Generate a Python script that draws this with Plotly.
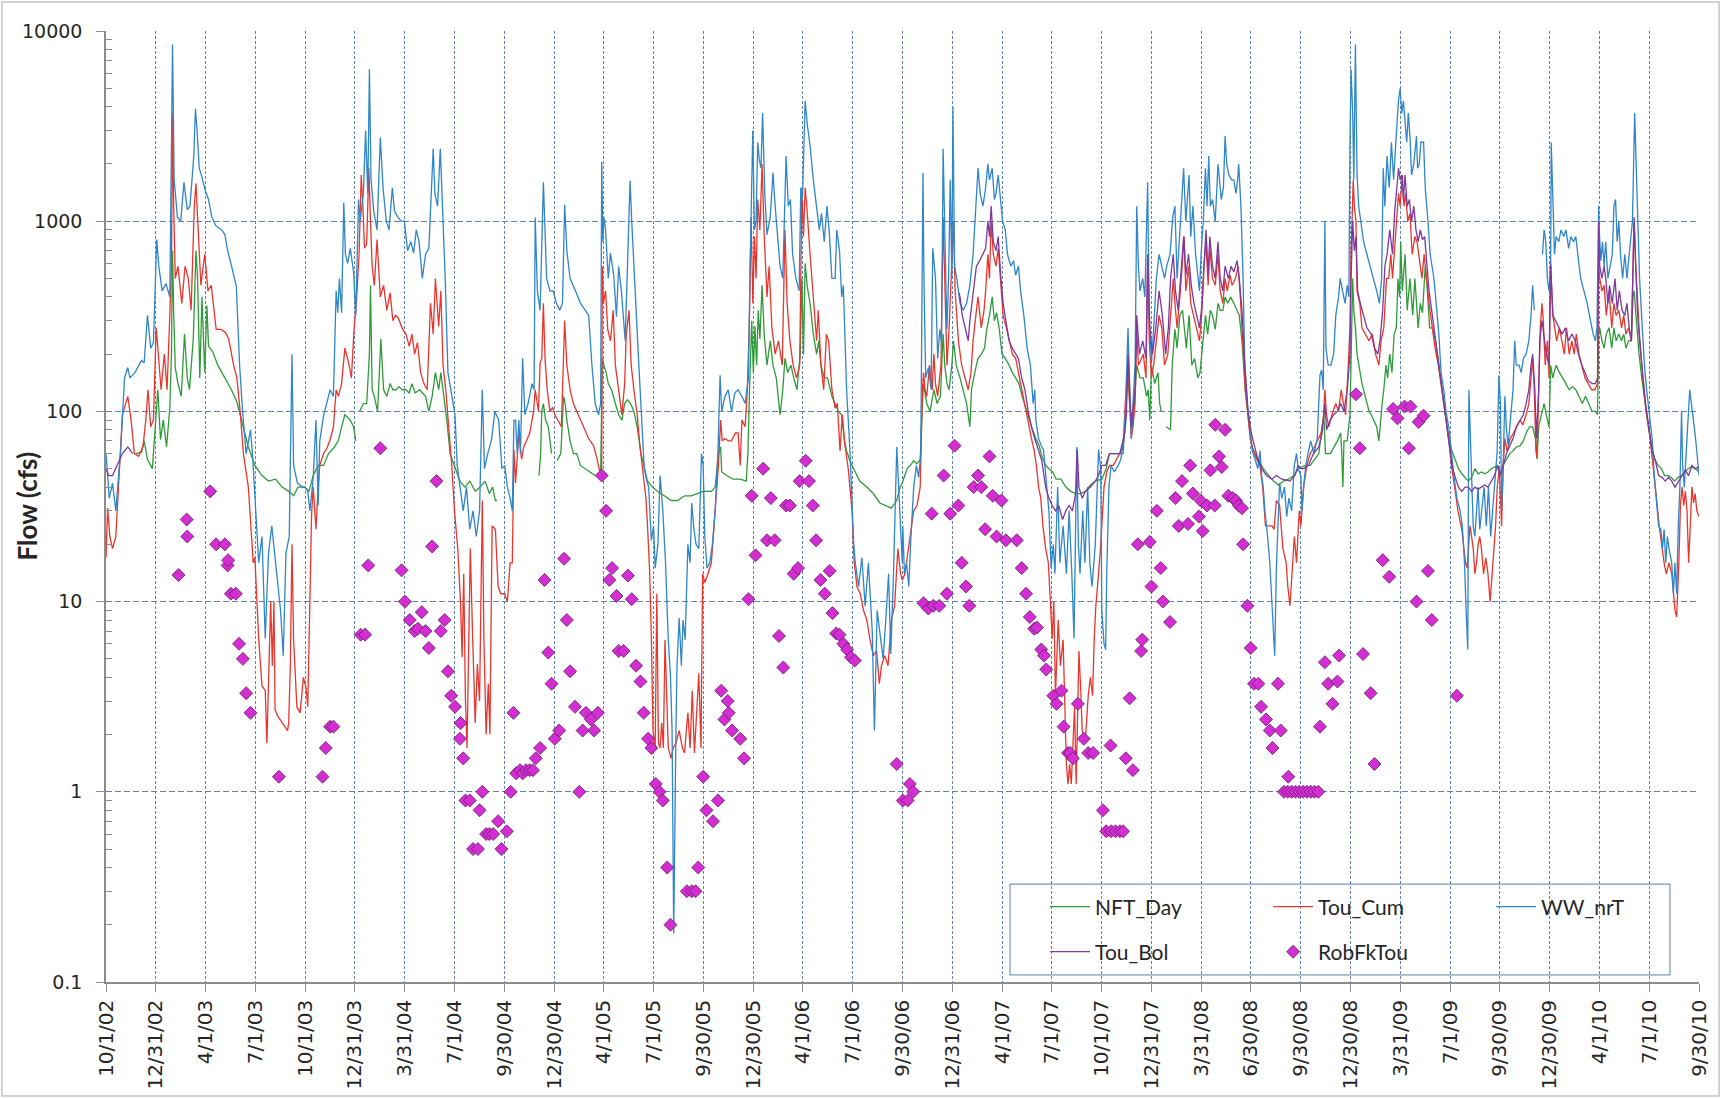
import plotly.graph_objects as go
import pandas as pd

# ---------------- tick labels ----------------
tick_labels = ["10/1/02", "12/31/02", "4/1/03", "7/1/03", "10/1/03", "12/31/03", "3/31/04",
               "7/1/04", "9/30/04", "12/30/04", "4/1/05", "7/1/05", "9/30/05", "12/30/05",
               "4/1/06", "7/1/06", "9/30/06", "12/31/06", "4/1/07", "7/1/07", "10/1/07",
               "12/31/07", "3/31/08", "6/30/08", "9/30/08", "12/30/08", "3/31/09", "7/1/09",
               "9/30/09", "12/30/09", "4/1/10", "7/1/10", "9/30/10"]
y_tick_vals = [0.1, 1, 10, 100, 1000, 10000]
y_tick_text = ["0.1", "1", "10", "100", "1000", "10000"]

# ---------------- series (date, cfs) ----------------
nft_day = [
    ("2002-11-25", 60), ("2002-12-05", 61), ("2002-12-10", 70), ("2002-12-16", 56), ("2002-12-25", 50),
    ("2003-01-01", 96), ("2003-01-04", 130), ("2003-01-09", 71), ("2003-01-14", 90), ("2003-01-20", 65),
    ("2003-01-26", 104), ("2003-01-29", 200), ("2003-01-31", 700), ("2003-02-02", 340), ("2003-02-05", 170),
    ("2003-02-10", 140), ("2003-02-16", 120), ("2003-02-22", 255), ("2003-02-27", 150), ("2003-03-03", 130),
    ("2003-03-10", 240), ("2003-03-15", 700), ("2003-03-18", 500), ("2003-03-22", 150), ("2003-03-26", 400),
    ("2003-03-31", 160), ("2003-04-04", 360), ("2003-04-07", 220), ("2003-04-15", 205), ("2003-04-24", 175),
    ("2003-05-07", 150), ("2003-05-19", 130), ("2003-05-29", 112), ("2003-06-07", 90), ("2003-06-19", 65),
    ("2003-07-01", 52), ("2003-07-14", 46), ("2003-07-26", 43), ("2003-08-08", 44), ("2003-08-20", 40),
    ("2003-09-01", 38), ("2003-09-10", 36), ("2003-09-18", 40), ("2003-09-30", 40),
    ("2003-10-08", 38), ("2003-10-16", 46), ("2003-10-25", 52), ("2003-11-04", 52), ("2003-11-13", 60),
    ("2003-11-22", 64), ("2003-12-01", 70), ("2003-12-07", 83), ("2003-12-13", 96), ("2003-12-23", 90),
    ("2003-12-29", 83), ("2004-01-02", 70), ("2004-01-05", None), ("2004-01-09", 100), ("2004-01-16", 110),
    ("2004-01-22", 110), ("2004-01-27", 200), ("2004-01-29", 460), ("2004-02-01", 130), ("2004-02-05", 120),
    ("2004-02-11", 100), ("2004-02-17", 240), ("2004-02-22", 130), ("2004-02-28", 120), ("2004-03-05", 140),
    ("2004-03-10", 130), ("2004-03-16", 130), ("2004-03-21", 135), ("2004-03-27", 130), ("2004-04-03", 130),
    ("2004-04-09", 125), ("2004-04-14", 140), ("2004-04-20", 125), ("2004-04-28", 130), ("2004-05-09", 120),
    ("2004-05-15", 100), ("2004-05-21", 120), ("2004-05-27", 160), ("2004-06-02", 130), ("2004-06-06", 160),
    ("2004-06-10", 130), ("2004-06-17", 90), ("2004-06-23", 60), ("2004-07-01", 52), ("2004-07-11", 43),
    ("2004-07-20", 40), ("2004-07-29", 43), ("2004-08-08", 38), ("2004-08-17", 40), ("2004-08-26", 43),
    ("2004-09-03", 37), ("2004-09-09", 40), ("2004-09-14", 34), ("2004-09-17", 34), ("2004-09-20", None),
    ("2004-12-03", 46), ("2004-12-06", 60), ("2004-12-08", 100), ("2004-12-11", 110), ("2004-12-15", 90),
    ("2004-12-20", 83), ("2004-12-26", 60), ("2004-12-30", None), ("2005-01-05", 55), ("2005-01-12", 60),
    ("2005-01-17", 120), ("2005-01-20", 110), ("2005-01-23", 90), ("2005-01-29", 70), ("2005-02-04", 60),
    ("2005-02-10", 60), ("2005-02-17", 52), ("2005-02-26", 50), ("2005-03-07", 48), ("2005-03-16", 46),
    ("2005-03-26", 46), ("2005-03-29", 190), ("2005-04-01", 175), ("2005-04-05", 160), ("2005-04-09", 140),
    ("2005-04-15", 130), ("2005-04-22", 110), ("2005-04-28", 96), ("2005-05-04", 90), ("2005-05-09", 110),
    ("2005-05-14", 115), ("2005-05-20", 110), ("2005-05-26", 100), ("2005-06-01", 83), ("2005-06-08", 60),
    ("2005-06-14", 50), ("2005-06-20", 43), ("2005-06-29", 40), ("2005-07-08", 38), ("2005-07-21", 36),
    ("2005-08-02", 34), ("2005-08-14", 34), ("2005-08-27", 36), ("2005-09-08", 36), ("2005-09-20", 37),
    ("2005-09-30", 38),
    ("2005-10-15", 38), ("2005-10-22", 40), ("2005-10-28", 60), ("2005-11-01", 65), ("2005-11-03", 48),
    ("2005-11-12", 46), ("2005-11-24", 44), ("2005-12-07", 44), ("2005-12-18", 43), ("2005-12-21", 60),
    ("2005-12-24", 130), ("2005-12-26", 200), ("2005-12-28", 300), ("2005-12-31", 160), ("2006-01-03", 280),
    ("2006-01-06", 175), ("2006-01-09", 340), ("2006-01-12", 240), ("2006-01-16", 460), ("2006-01-20", 250),
    ("2006-01-25", 175), ("2006-01-31", 235), ("2006-02-05", 175), ("2006-02-11", 150), ("2006-02-18", 96),
    ("2006-02-23", 130), ("2006-02-27", 190), ("2006-03-04", 160), ("2006-03-10", 175), ("2006-03-15", 150),
    ("2006-03-21", 130), ("2006-03-27", 200), ("2006-03-30", 500), ("2006-04-02", 200), ("2006-04-05", 600),
    ("2006-04-09", 450), ("2006-04-14", 370), ("2006-04-20", 255), ("2006-04-26", 200), ("2006-04-30", 235),
    ("2006-05-04", 175), ("2006-05-10", 150), ("2006-05-16", 150), ("2006-05-24", 120), ("2006-05-30", 110),
    ("2006-06-05", 100), ("2006-06-11", 96), ("2006-06-16", 70), ("2006-06-20", 62), ("2006-06-26", 55),
    ("2006-07-03", 50), ("2006-07-14", 43), ("2006-07-27", 40), ("2006-08-08", 37), ("2006-08-20", 33),
    ("2006-09-01", 32), ("2006-09-10", 31), ("2006-09-20", 34), ("2006-09-26", 40), ("2006-09-30", 42),
    ("2006-10-09", 50), ("2006-10-15", 52), ("2006-10-21", 55), ("2006-10-27", 53), ("2006-11-02", 56),
    ("2006-11-06", 110), ("2006-11-08", 140), ("2006-11-14", 110), ("2006-11-20", 100), ("2006-11-27", 130),
    ("2006-12-03", 110), ("2006-12-09", 120), ("2006-12-14", 255), ("2006-12-17", 175), ("2006-12-21", 140),
    ("2006-12-25", 130), ("2006-12-30", 175), ("2007-01-02", 235), ("2007-01-07", 175), ("2007-01-14", 150),
    ("2007-01-20", 130), ("2007-01-26", 110), ("2007-02-01", 83), ("2007-02-04", 130), ("2007-02-10", 160),
    ("2007-02-16", 190), ("2007-02-22", 200), ("2007-02-28", 215), ("2007-03-04", 270), ("2007-03-09", 320),
    ("2007-03-14", 400), ("2007-03-18", 300), ("2007-03-22", 330), ("2007-03-27", 270), ("2007-04-01", 200),
    ("2007-04-07", 190), ("2007-04-14", 175), ("2007-04-20", 160), ("2007-04-26", 150), ("2007-05-02", 140),
    ("2007-05-08", 120), ("2007-05-14", 105), ("2007-05-20", 92), ("2007-05-27", 80), ("2007-06-02", 72),
    ("2007-06-08", 66), ("2007-06-14", 57), ("2007-06-20", 52), ("2007-06-26", 50), ("2007-07-03", 48),
    ("2007-07-09", 44), ("2007-07-18", 44), ("2007-07-27", 40), ("2007-08-05", 38), ("2007-08-14", 37),
    ("2007-08-23", 37), ("2007-09-01", 38), ("2007-09-10", 41), ("2007-09-19", 43), ("2007-10-01", 44),
    ("2007-10-09", 50), ("2007-10-15", 60), ("2007-10-28", 60), ("2007-11-09", 60), ("2007-11-13", 90),
    ("2007-11-18", 160), ("2007-11-21", 110), ("2007-11-27", 83), ("2007-12-04", 175), ("2007-12-10", 150),
    ("2007-12-16", 150), ("2007-12-22", 120), ("2007-12-25", 130), ("2007-12-28", 90), ("2007-12-31", 175),
    ("2008-01-06", 140), ("2008-01-12", 160), ("2008-01-15", 110), ("2008-01-18", 100), ("2008-01-22", None),
    ("2008-01-27", 83), ("2008-02-04", 80), ("2008-02-07", 175), ("2008-02-12", 270), ("2008-02-16", 215),
    ("2008-02-21", 320), ("2008-02-26", 340), ("2008-02-29", 270), ("2008-03-04", 215), ("2008-03-09", 320),
    ("2008-03-14", 175), ("2008-03-19", 190), ("2008-03-25", 150), ("2008-03-29", 160), ("2008-04-03", 235),
    ("2008-04-08", 320), ("2008-04-12", 255), ("2008-04-17", 340), ("2008-04-21", 320), ("2008-04-26", 270),
    ("2008-05-01", 370), ("2008-05-05", 340), ("2008-05-10", 340), ("2008-05-14", 400), ("2008-05-19", 370),
    ("2008-05-24", 400), ("2008-05-30", 370), ("2008-06-05", 340), ("2008-06-09", 320), ("2008-06-14", 235),
    ("2008-06-20", 130), ("2008-06-26", 90), ("2008-07-02", 65), ("2008-07-08", 60), ("2008-07-14", 56),
    ("2008-07-23", 50), ("2008-08-02", 46), ("2008-08-11", 43), ("2008-08-20", 41), ("2008-08-29", 43),
    ("2008-09-07", 44), ("2008-09-17", 46), ("2008-09-26", 50),
    ("2008-10-08", 52), ("2008-10-17", 52), ("2008-10-26", 56), ("2008-11-02", 60), ("2008-11-08", 83),
    ("2008-11-11", 96), ("2008-11-14", 60), ("2008-11-23", 60), ("2008-12-06", 70), ("2008-12-12", 77),
    ("2008-12-14", 60), ("2008-12-16", 40), ("2008-12-18", 70), ("2008-12-24", 70), ("2008-12-29", 96),
    ("2008-12-31", 200), ("2009-01-03", 500), ("2009-01-05", 340), ("2009-01-08", 275), ("2009-01-11", 200),
    ("2009-01-16", 160), ("2009-01-20", 140), ("2009-01-26", 120), ("2009-02-02", 100), ("2009-02-06", 96),
    ("2009-02-11", 90), ("2009-02-16", 83), ("2009-02-20", 70), ("2009-02-23", 90), ("2009-02-26", 110),
    ("2009-03-01", 130), ("2009-03-05", 175), ("2009-03-08", 150), ("2009-03-12", 200), ("2009-03-16", 160),
    ("2009-03-20", 255), ("2009-03-24", 275), ("2009-03-27", 500), ("2009-03-30", 400), ("2009-04-01", 780),
    ("2009-04-04", 430), ("2009-04-09", 670), ("2009-04-13", 340), ("2009-04-18", 500), ("2009-04-23", 320),
    ("2009-04-27", 500), ("2009-05-03", 275), ("2009-05-07", 370), ("2009-05-11", 330), ("2009-05-16", 580),
    ("2009-05-20", 430), ("2009-05-24", 275), ("2009-05-29", 275), ("2009-06-04", 235), ("2009-06-10", 175),
    ("2009-06-16", 130), ("2009-06-22", 96), ("2009-06-28", 72), ("2009-07-04", 62), ("2009-07-10", 55),
    ("2009-07-16", 50), ("2009-07-22", 47), ("2009-07-28", 45), ("2009-08-03", 43), ("2009-08-09", 45),
    ("2009-08-15", 50), ("2009-08-21", 47), ("2009-08-27", 48), ("2009-09-02", 47), ("2009-09-08", 48),
    ("2009-09-14", 50), ("2009-09-20", 51), ("2009-09-26", 52),
    ("2009-09-30", 46), ("2009-10-06", 52), ("2009-10-12", 56), ("2009-10-18", 60), ("2009-10-24", 62),
    ("2009-10-30", 65), ("2009-11-06", 66), ("2009-11-12", 70), ("2009-11-17", 77), ("2009-11-23", 83),
    ("2009-11-29", 83), ("2009-12-05", 70), ("2009-12-07", 56), ("2009-12-10", 83), ("2009-12-15", 96),
    ("2009-12-20", 110), ("2009-12-24", 96), ("2009-12-29", 83), ("2010-01-01", 175), ("2010-01-05", 150),
    ("2010-01-11", 175), ("2010-01-17", 160), ("2010-01-23", 150), ("2010-01-29", 140), ("2010-02-04", 130),
    ("2010-02-10", 135), ("2010-02-16", 130), ("2010-02-22", 120), ("2010-02-28", 110), ("2010-03-06", 120),
    ("2010-03-12", 110), ("2010-03-18", 100), ("2010-03-24", 100), ("2010-03-28", 96), ("2010-03-30", 255),
    ("2010-04-01", 275), ("2010-04-05", 235), ("2010-04-09", 215), ("2010-04-13", 255), ("2010-04-18", 275),
    ("2010-04-23", 215), ("2010-04-27", 275), ("2010-05-01", 235), ("2010-05-06", 255), ("2010-05-11", 235),
    ("2010-05-15", 255), ("2010-05-19", 215), ("2010-05-24", 235), ("2010-05-29", 235), ("2010-06-01", 400),
    ("2010-06-03", 430), ("2010-06-07", 300), ("2010-06-12", 200), ("2010-06-17", 150), ("2010-06-23", 110),
    ("2010-06-29", 83), ("2010-07-05", 66), ("2010-07-11", 56), ("2010-07-17", 52), ("2010-07-23", 50),
    ("2010-07-29", 46), ("2010-08-04", 46), ("2010-08-10", 45), ("2010-08-16", 43), ("2010-08-23", 45),
    ("2010-08-29", 46), ("2010-09-04", 48), ("2010-09-10", 50), ("2010-09-16", 51), ("2010-09-23", 50),
    ("2010-09-30", 48),
]

tou_cum = [
    ("2002-10-01", 17), ("2002-10-04", 31), ("2002-10-08", 22), ("2002-10-13", 19), ("2002-10-19", 22),
    ("2002-10-25", 50), ("2002-10-31", 96), ("2002-11-10", 120), ("2002-11-16", 90), ("2002-11-22", 60),
    ("2002-11-30", 58), ("2002-12-08", 66), ("2002-12-13", 90), ("2002-12-17", 130), ("2002-12-22", 83),
    ("2002-12-27", 90), ("2003-01-01", 275), ("2003-01-05", 200), ("2003-01-10", 130), ("2003-01-16", 200),
    ("2003-01-21", 130), ("2003-01-26", 320), ("2003-01-29", 580), ("2003-01-31", 3700), ("2003-02-02", 1220),
    ("2003-02-05", 500), ("2003-02-10", 580), ("2003-02-17", 370), ("2003-02-23", 580), ("2003-03-01", 500),
    ("2003-03-06", 340), ("2003-03-12", 1220), ("2003-03-15", 1580), ("2003-03-19", 900), ("2003-03-24", 460),
    ("2003-03-31", 670), ("2003-04-06", 430), ("2003-04-12", 460), ("2003-04-21", 270), ("2003-04-30", 270),
    ("2003-05-08", 260), ("2003-05-14", 240), ("2003-05-23", 175), ("2003-05-29", 150), ("2003-06-04", 100),
    ("2003-06-10", 60), ("2003-06-19", 40), ("2003-06-28", 16), ("2003-07-01", 17), ("2003-07-08", 6.4),
    ("2003-07-14", 3.6), ("2003-07-20", 3.4), ("2003-07-23", 1.8), ("2003-07-30", 10), ("2003-08-02", 4.6),
    ("2003-08-05", 10), ("2003-08-07", 2.7), ("2003-08-12", 2.5), ("2003-08-21", 2.3), ("2003-08-30", 2.1),
    ("2003-09-01", 2.3), ("2003-09-04", 4.6), ("2003-09-07", 20), ("2003-09-10", 6.3), ("2003-09-16", 2.8),
    ("2003-09-22", 2.6), ("2003-09-28", 4),
    ("2003-10-03", 3.5), ("2003-10-06", 2.8), ("2003-10-10", 14), ("2003-10-13", 29), ("2003-10-16", 40),
    ("2003-10-21", 24), ("2003-10-25", 40), ("2003-10-28", 52), ("2003-11-04", 60), ("2003-11-10", 64),
    ("2003-11-16", 71), ("2003-11-22", 83), ("2003-11-27", 130), ("2003-12-01", 120), ("2003-12-07", 140),
    ("2003-12-13", 215), ("2003-12-19", 185), ("2003-12-25", 150), ("2003-12-30", 275), ("2004-01-03", 370),
    ("2004-01-08", 670), ("2004-01-12", 1750), ("2004-01-15", 1200), ("2004-01-18", 720), ("2004-01-22", 760),
    ("2004-01-26", 1900), ("2004-01-29", 1000), ("2004-02-01", 580), ("2004-02-05", 460), ("2004-02-10", 800),
    ("2004-02-16", 400), ("2004-02-22", 460), ("2004-02-28", 340), ("2004-03-05", 420), ("2004-03-10", 300),
    ("2004-03-15", 320), ("2004-03-20", 310), ("2004-03-28", 270), ("2004-04-03", 255), ("2004-04-09", 220),
    ("2004-04-14", 255), ("2004-04-19", 200), ("2004-04-24", 230), ("2004-04-30", 160), ("2004-05-06", 140),
    ("2004-05-12", 130), ("2004-05-18", 370), ("2004-05-23", 255), ("2004-05-27", 500), ("2004-05-30", 345),
    ("2004-06-02", 280), ("2004-06-06", 430), ("2004-06-10", 175), ("2004-06-15", 130), ("2004-06-19", 96),
    ("2004-06-26", 52), ("2004-07-01", 30), ("2004-07-07", 19), ("2004-07-12", 10), ("2004-07-15", 5.1),
    ("2004-07-18", 14), ("2004-07-21", 3.1), ("2004-07-24", 1.7), ("2004-07-27", 4.6), ("2004-07-30", 19),
    ("2004-08-03", 7), ("2004-08-08", 2.3), ("2004-08-12", 4.7), ("2004-08-16", 3), ("2004-08-21", 34),
    ("2004-08-24", 6.3), ("2004-08-28", 2), ("2004-09-01", 3.7), ("2004-09-04", 2), ("2004-09-08", 25),
    ("2004-09-14", 24), ("2004-09-19", 12), ("2004-09-24", 11), ("2004-09-28", 11),
    ("2004-10-01", 11), ("2004-10-06", 10), ("2004-10-11", 16), ("2004-10-15", 16), ("2004-10-18", 63),
    ("2004-10-21", 42), ("2004-10-27", 77), ("2004-11-01", 56), ("2004-11-05", 65), ("2004-11-10", 70),
    ("2004-11-16", 77), ("2004-11-23", 100), ("2004-11-26", 130), ("2004-12-02", 100), ("2004-12-05", 180),
    ("2004-12-08", 190), ("2004-12-11", 370), ("2004-12-14", 190), ("2004-12-18", 130), ("2004-12-23", 100),
    ("2004-12-28", 105), ("2005-01-01", 96), ("2005-01-07", 90), ("2005-01-13", 83), ("2005-01-19", 300),
    ("2005-01-23", 175), ("2005-01-29", 130), ("2005-02-04", 110), ("2005-02-13", 96), ("2005-02-23", 83),
    ("2005-03-04", 72), ("2005-03-13", 66), ("2005-03-19", 57), ("2005-03-26", 46), ("2005-03-28", 46),
    ("2005-03-29", 580), ("2005-03-31", 370), ("2005-04-04", 430), ("2005-04-08", 270), ("2005-04-13", 235),
    ("2005-04-18", 340), ("2005-04-22", 175), ("2005-04-28", 130), ("2005-05-04", 96), ("2005-05-09", 140),
    ("2005-05-12", 255), ("2005-05-17", 340), ("2005-05-21", 175), ("2005-05-26", 130), ("2005-06-01", 96),
    ("2005-06-06", 66), ("2005-06-12", 46), ("2005-06-17", 35), ("2005-06-20", 25), ("2005-06-24", 14),
    ("2005-06-27", 6.4), ("2005-06-30", 2.1), ("2005-07-04", 1.7), ("2005-07-07", 11), ("2005-07-10", 1.8),
    ("2005-07-13", 1.7), ("2005-07-16", 2.3), ("2005-07-19", 1.7), ("2005-07-22", 6.3), ("2005-07-25", 3.2),
    ("2005-07-28", 1.7), ("2005-08-02", 1.5), ("2005-08-06", 1.7), ("2005-08-11", 1.8), ("2005-08-17", 2.1),
    ("2005-08-23", 1.7), ("2005-08-27", 1.6), ("2005-08-30", 2.1), ("2005-09-02", 2.6), ("2005-09-06", 1.7),
    ("2005-09-10", 3.4), ("2005-09-14", 1.6), ("2005-09-18", 2.6), ("2005-09-22", 4.2), ("2005-09-26", 1.7),
    ("2005-09-29", 14),
    ("2005-10-03", 12.6), ("2005-10-09", 14), ("2005-10-15", 16), ("2005-10-22", 30), ("2005-10-28", 52),
    ("2005-11-01", 90), ("2005-11-04", 70), ("2005-11-09", 72), ("2005-11-15", 70), ("2005-11-21", 70),
    ("2005-11-28", 77), ("2005-12-03", 77), ("2005-12-07", 52), ("2005-12-10", 90), ("2005-12-16", 83),
    ("2005-12-20", 130), ("2005-12-24", 320), ("2005-12-27", 1050), ("2005-12-30", 370), ("2006-01-02", 830),
    ("2006-01-05", 500), ("2006-01-08", 1300), ("2006-01-12", 900), ("2006-01-16", 2000), ("2006-01-20", 830),
    ("2006-01-25", 400), ("2006-01-29", 580), ("2006-02-03", 275), ("2006-02-09", 200), ("2006-02-15", 235),
    ("2006-02-22", 175), ("2006-02-27", 900), ("2006-03-03", 370), ("2006-03-08", 235), ("2006-03-14", 175),
    ("2006-03-20", 150), ("2006-03-26", 175), ("2006-03-30", 1500), ("2006-04-02", 830), ("2006-04-05", 1500),
    ("2006-04-08", 1200), ("2006-04-14", 670), ("2006-04-20", 400), ("2006-04-26", 235), ("2006-04-29", 340),
    ("2006-05-04", 175), ("2006-05-09", 130), ("2006-05-14", 255), ("2006-05-18", 235), ("2006-05-24", 130),
    ("2006-05-30", 104), ("2006-06-03", 110), ("2006-06-08", 62), ("2006-06-12", 96), ("2006-06-17", 66),
    ("2006-06-23", 50), ("2006-06-30", 30), ("2006-07-04", 16), ("2006-07-09", 12), ("2006-07-15", 11),
    ("2006-07-21", 9), ("2006-07-27", 8), ("2006-08-02", 6.3), ("2006-08-08", 5.2), ("2006-08-14", 5.5),
    ("2006-08-19", 3.7), ("2006-08-23", 4.6), ("2006-08-29", 5.2), ("2006-09-04", 4.6), ("2006-09-10", 8),
    ("2006-09-16", 9.5), ("2006-09-22", 19), ("2006-09-27", 14), ("2006-09-30", 13),
    ("2006-10-05", 14), ("2006-10-09", 17), ("2006-10-15", 23), ("2006-10-21", 30), ("2006-10-27", 32),
    ("2006-11-02", 40), ("2006-11-06", 130), ("2006-11-08", 160), ("2006-11-11", 130), ("2006-11-14", 120),
    ("2006-11-19", 175), ("2006-11-24", 130), ("2006-11-27", 200), ("2006-11-30", 140), ("2006-12-04", 120),
    ("2006-12-07", 150), ("2006-12-10", 175), ("2006-12-14", 1050), ("2006-12-17", 500), ("2006-12-21", 175),
    ("2006-12-25", 275), ("2006-12-30", 580), ("2007-01-02", 1000), ("2007-01-05", 430), ("2007-01-11", 235),
    ("2007-01-17", 175), ("2007-01-23", 150), ("2007-01-29", 130), ("2007-02-03", 160), ("2007-02-07", 235),
    ("2007-02-12", 320), ("2007-02-16", 400), ("2007-02-22", 275), ("2007-02-27", 340), ("2007-03-02", 430),
    ("2007-03-06", 670), ("2007-03-09", 500), ("2007-03-12", 1000), ("2007-03-16", 670), ("2007-03-21", 580),
    ("2007-03-25", 720), ("2007-03-30", 450), ("2007-04-03", 320), ("2007-04-09", 275), ("2007-04-15", 235),
    ("2007-04-20", 200), ("2007-04-26", 190), ("2007-05-01", 160), ("2007-05-07", 130), ("2007-05-13", 110),
    ("2007-05-19", 90), ("2007-05-25", 72), ("2007-05-30", 62), ("2007-06-03", 52), ("2007-06-07", 40),
    ("2007-06-11", 35), ("2007-06-15", 25), ("2007-06-20", 19), ("2007-06-25", 16), ("2007-06-29", 9.5),
    ("2007-07-02", 6.4), ("2007-07-05", 10), ("2007-07-08", 3.2), ("2007-07-13", 8), ("2007-07-17", 4.6),
    ("2007-07-22", 6.3), ("2007-07-25", 2.5), ("2007-07-28", 1.4), ("2007-07-31", 1.1), ("2007-08-03", 1.4),
    ("2007-08-06", 1.1), ("2007-08-09", 1.7), ("2007-08-12", 2.8), ("2007-08-15", 1.1), ("2007-08-18", 3.2),
    ("2007-08-20", 5.5), ("2007-08-23", 3.6), ("2007-08-26", 2.1), ("2007-09-01", 1.9), ("2007-09-06", 3.2),
    ("2007-09-10", 4), ("2007-09-14", 3.2), ("2007-09-17", 6.3), ("2007-09-20", 9.5), ("2007-09-25", 14),
    ("2007-09-29", 20),
    ("2007-10-05", 40), ("2007-10-10", 48), ("2007-10-15", 52), ("2007-10-22", 52), ("2007-10-28", 56),
    ("2007-11-03", 60), ("2007-11-09", 65), ("2007-11-13", 110), ("2007-11-18", 175), ("2007-11-21", 110),
    ("2007-11-24", 72), ("2007-11-27", 83), ("2007-12-01", 110), ("2007-12-04", 275), ("2007-12-07", 175),
    ("2007-12-11", 185), ("2007-12-16", 200), ("2007-12-21", 150), ("2007-12-24", 580), ("2007-12-27", 235),
    ("2007-12-31", 150), ("2008-01-04", 175), ("2008-01-09", 235), ("2008-01-14", 320), ("2008-01-19", 275),
    ("2008-01-24", 175), ("2008-01-30", 200), ("2008-02-04", 340), ("2008-02-09", 500), ("2008-02-12", 370),
    ("2008-02-16", 275), ("2008-02-22", 430), ("2008-02-26", 670), ("2008-02-29", 830), ("2008-03-03", 430),
    ("2008-03-08", 580), ("2008-03-12", 370), ("2008-03-17", 320), ("2008-03-23", 275), ("2008-03-28", 235),
    ("2008-04-01", 320), ("2008-04-05", 580), ("2008-04-09", 780), ("2008-04-13", 460), ("2008-04-16", 720),
    ("2008-04-21", 500), ("2008-04-26", 460), ("2008-05-01", 670), ("2008-05-05", 430), ("2008-05-10", 370),
    ("2008-05-14", 500), ("2008-05-18", 430), ("2008-05-23", 520), ("2008-05-27", 460), ("2008-06-02", 500),
    ("2008-06-07", 580), ("2008-06-11", 400), ("2008-06-15", 235), ("2008-06-20", 130), ("2008-06-25", 96),
    ("2008-06-29", 72), ("2008-07-05", 62), ("2008-07-11", 56), ("2008-07-17", 52), ("2008-07-22", 40),
    ("2008-07-27", 25), ("2008-08-02", 25), ("2008-08-08", 25), ("2008-08-12", 24), ("2008-08-16", 34),
    ("2008-08-22", 32), ("2008-08-28", 19), ("2008-09-03", 16), ("2008-09-06", 12), ("2008-09-10", 9.5),
    ("2008-09-14", 14), ("2008-09-18", 22), ("2008-09-22", 16), ("2008-09-27", 30),
    ("2008-09-30", 25), ("2008-10-05", 40), ("2008-10-11", 52), ("2008-10-17", 60), ("2008-10-26", 66),
    ("2008-11-02", 72), ("2008-11-06", 77), ("2008-11-10", 90), ("2008-11-13", 130), ("2008-11-16", 96),
    ("2008-11-20", 83), ("2008-11-26", 96), ("2008-12-03", 110), ("2008-12-08", 100), ("2008-12-13", 130),
    ("2008-12-17", 110), ("2008-12-21", 96), ("2008-12-26", 175), ("2008-12-29", 275), ("2008-12-31", 670),
    ("2009-01-02", 1200), ("2009-01-04", 1650), ("2009-01-06", 1200), ("2009-01-09", 1000), ("2009-01-11", 430),
    ("2009-01-16", 370), ("2009-01-20", 275), ("2009-01-26", 255), ("2009-02-02", 235), ("2009-02-08", 255),
    ("2009-02-14", 200), ("2009-02-20", 175), ("2009-02-24", 235), ("2009-03-01", 275), ("2009-03-06", 500),
    ("2009-03-10", 500), ("2009-03-14", 670), ("2009-03-17", 500), ("2009-03-22", 780), ("2009-03-25", 1000),
    ("2009-03-28", 1400), ("2009-03-31", 1200), ("2009-04-04", 1750), ("2009-04-07", 1200), ("2009-04-10", 1400),
    ("2009-04-14", 1000), ("2009-04-18", 1100), ("2009-04-22", 670), ("2009-04-27", 830), ("2009-05-01", 780),
    ("2009-05-05", 620), ("2009-05-10", 500), ("2009-05-14", 670), ("2009-05-18", 500), ("2009-05-23", 370),
    ("2009-05-29", 275), ("2009-06-03", 215), ("2009-06-09", 175), ("2009-06-16", 130), ("2009-06-22", 96),
    ("2009-06-28", 72), ("2009-07-03", 52), ("2009-07-09", 40), ("2009-07-15", 30), ("2009-07-22", 24),
    ("2009-07-26", 19), ("2009-07-29", 16), ("2009-08-01", 15), ("2009-08-03", 19), ("2009-08-06", 25),
    ("2009-08-09", 22), ("2009-08-12", 19), ("2009-08-15", 14), ("2009-08-18", 16), ("2009-08-21", 20),
    ("2009-08-24", 22), ("2009-08-27", 19), ("2009-08-31", 14), ("2009-09-04", 17), ("2009-09-08", 14),
    ("2009-09-12", 10), ("2009-09-15", 14), ("2009-09-19", 19), ("2009-09-22", 25), ("2009-09-25", 40),
    ("2009-09-29", 50),
    ("2009-10-03", 25), ("2009-10-06", 52), ("2009-10-09", 72), ("2009-10-13", 62), ("2009-10-19", 72),
    ("2009-10-25", 77), ("2009-10-31", 83), ("2009-11-06", 90), ("2009-11-11", 85), ("2009-11-17", 96),
    ("2009-11-22", 110), ("2009-11-26", 160), ("2009-11-29", 190), ("2009-12-02", 130), ("2009-12-05", 62),
    ("2009-12-07", 57), ("2009-12-10", 110), ("2009-12-13", 275), ("2009-12-16", 370), ("2009-12-18", 320),
    ("2009-12-22", 175), ("2009-12-26", 235), ("2009-12-29", 150), ("2010-01-01", 580), ("2010-01-05", 320),
    ("2010-01-08", 275), ("2010-01-12", 235), ("2010-01-17", 275), ("2010-01-21", 235), ("2010-01-26", 200),
    ("2010-01-30", 275), ("2010-02-04", 200), ("2010-02-09", 235), ("2010-02-13", 200), ("2010-02-17", 255),
    ("2010-02-22", 200), ("2010-02-27", 175), ("2010-03-05", 150), ("2010-03-11", 140), ("2010-03-17", 130),
    ("2010-03-23", 130), ("2010-03-28", 140), ("2010-03-30", 580), ("2010-04-01", 500), ("2010-04-05", 430),
    ("2010-04-09", 460), ("2010-04-13", 320), ("2010-04-18", 430), ("2010-04-23", 275), ("2010-04-27", 370),
    ("2010-05-01", 320), ("2010-05-06", 340), ("2010-05-11", 275), ("2010-05-15", 320), ("2010-05-19", 255),
    ("2010-05-24", 275), ("2010-05-29", 235), ("2010-06-01", 670), ("2010-06-03", 1000), ("2010-06-06", 580),
    ("2010-06-09", 370), ("2010-06-12", 275), ("2010-06-17", 175), ("2010-06-21", 130), ("2010-06-25", 100),
    ("2010-06-30", 83), ("2010-07-05", 62), ("2010-07-09", 46), ("2010-07-14", 35), ("2010-07-19", 25),
    ("2010-07-24", 19), ("2010-07-28", 16), ("2010-08-01", 14), ("2010-08-06", 16), ("2010-08-11", 14),
    ("2010-08-15", 11), ("2010-08-17", 9), ("2010-08-20", 8.3), ("2010-08-22", 11), ("2010-08-24", 16),
    ("2010-08-27", 32), ("2010-08-30", 40), ("2010-09-02", 32), ("2010-09-05", 38), ("2010-09-08", 30),
    ("2010-09-11", 16), ("2010-09-14", 25), ("2010-09-17", 40), ("2010-09-20", 33), ("2010-09-23", 37),
    ("2010-09-26", 30), ("2010-09-30", 28),
]

ww_nrt = [
    ("2002-10-01", 60), ("2002-10-04", 45), ("2002-10-07", 35), ("2002-10-13", 42), ("2002-10-19", 30),
    ("2002-10-28", 63), ("2002-11-04", 150), ("2002-11-10", 170), ("2002-11-14", 150), ("2002-11-23", 160),
    ("2002-12-05", 185), ("2002-12-10", 180), ("2002-12-16", 320), ("2002-12-22", 215), ("2002-12-27", 230),
    ("2003-01-02", 800), ("2003-01-06", 575), ("2003-01-12", 430), ("2003-01-19", 470), ("2003-01-26", 400),
    ("2003-01-29", 2000), ("2003-01-31", 8500), ("2003-02-03", 1650), ("2003-02-09", 1050), ("2003-02-15", 1000),
    ("2003-02-21", 1600), ("2003-02-27", 1150), ("2003-03-04", 1200), ("2003-03-11", 2200), ("2003-03-14", 3900),
    ("2003-03-17", 3000), ("2003-03-21", 1900), ("2003-03-26", 1700), ("2003-04-01", 1450), ("2003-04-07", 1300),
    ("2003-04-13", 1050), ("2003-04-20", 950), ("2003-05-01", 900), ("2003-05-07", 850), ("2003-05-12", 700),
    ("2003-05-18", 600), ("2003-05-28", 455), ("2003-06-03", 175), ("2003-06-09", 95), ("2003-06-15", 60),
    ("2003-06-23", 80), ("2003-06-27", 57), ("2003-07-02", 30), ("2003-07-08", 16), ("2003-07-14", 22),
    ("2003-07-20", 6.4), ("2003-07-26", 18), ("2003-08-01", 25), ("2003-08-08", 16), ("2003-08-17", 9),
    ("2003-08-22", 5.2), ("2003-08-27", 18), ("2003-09-02", 22), ("2003-09-07", 200), ("2003-09-10", 52),
    ("2003-09-17", 42), ("2003-09-26", 40),
    ("2003-10-01", 40), ("2003-10-06", 38), ("2003-10-10", 30), ("2003-10-16", 45), ("2003-10-21", 90),
    ("2003-10-25", 32), ("2003-10-28", 70), ("2003-11-04", 95), ("2003-11-10", 110), ("2003-11-16", 130),
    ("2003-11-22", 120), ("2003-11-27", 430), ("2003-11-30", 330), ("2003-12-03", 500), ("2003-12-07", 330),
    ("2003-12-11", 1250), ("2003-12-14", 670), ("2003-12-18", 600), ("2003-12-23", 720), ("2003-12-29", 540),
    ("2004-01-02", 320), ("2004-01-07", 1300), ("2004-01-10", 1000), ("2004-01-13", 1200), ("2004-01-16", 1400),
    ("2004-01-20", 3000), ("2004-01-24", 1400), ("2004-01-27", 6300), ("2004-01-30", 1650), ("2004-02-04", 1130),
    ("2004-02-10", 900), ("2004-02-16", 2750), ("2004-02-21", 1500), ("2004-02-27", 1000), ("2004-03-03", 900),
    ("2004-03-09", 1500), ("2004-03-13", 1130), ("2004-03-19", 1050), ("2004-03-25", 1000), ("2004-03-31", 1000),
    ("2004-04-06", 700), ("2004-04-12", 780), ("2004-04-17", 680), ("2004-04-22", 900), ("2004-04-27", 780),
    ("2004-05-03", 500), ("2004-05-09", 670), ("2004-05-15", 720), ("2004-05-19", 1400), ("2004-05-23", 2400),
    ("2004-05-26", 1400), ("2004-05-31", 1200), ("2004-06-05", 2400), ("2004-06-09", 1200), ("2004-06-14", 500),
    ("2004-06-19", 160), ("2004-06-24", 130), ("2004-07-02", 96), ("2004-07-06", 52), ("2004-07-11", 40),
    ("2004-07-17", 30), ("2004-07-23", 40), ("2004-07-29", 24), ("2004-08-04", 30), ("2004-08-10", 22),
    ("2004-08-16", 30), ("2004-08-21", 130), ("2004-08-25", 50), ("2004-08-31", 60), ("2004-09-07", 71),
    ("2004-09-13", 100), ("2004-09-20", 90), ("2004-09-26", 50),
    ("2004-10-01", 52), ("2004-10-06", 40), ("2004-10-11", 35), ("2004-10-15", 30), ("2004-10-18", 90),
    ("2004-10-21", 90), ("2004-10-24", 60), ("2004-10-27", 90), ("2004-10-30", 60), ("2004-11-03", 190),
    ("2004-11-07", 96), ("2004-11-13", 110), ("2004-11-20", 140), ("2004-11-24", 130), ("2004-11-26", 1050),
    ("2004-11-30", 430), ("2004-12-05", 340), ("2004-12-08", 780), ("2004-12-11", 1600), ("2004-12-14", 900),
    ("2004-12-17", 500), ("2004-12-23", 430), ("2004-12-29", 430), ("2005-01-04", 370), ("2005-01-10", 340),
    ("2005-01-15", 370), ("2005-01-19", 1220), ("2005-01-23", 700), ("2005-01-29", 500), ("2005-02-08", 430),
    ("2005-02-17", 370), ("2005-02-26", 340), ("2005-03-04", 320), ("2005-03-10", 175), ("2005-03-16", 110),
    ("2005-03-22", 96), ("2005-03-26", 110), ("2005-03-28", 2050), ("2005-03-30", 780), ("2005-04-01", 1050),
    ("2005-04-04", 900), ("2005-04-09", 500), ("2005-04-13", 680), ("2005-04-19", 520), ("2005-04-24", 315),
    ("2005-04-28", 580), ("2005-05-03", 430), ("2005-05-10", 235), ("2005-05-15", 680), ("2005-05-19", 1630),
    ("2005-05-22", 1000), ("2005-05-25", 600), ("2005-05-28", 450), ("2005-06-03", 200), ("2005-06-09", 100),
    ("2005-06-14", 50), ("2005-06-18", 44), ("2005-06-22", 40), ("2005-06-27", 21), ("2005-07-01", 25),
    ("2005-07-04", 15), ("2005-07-09", 20), ("2005-07-13", 46), ("2005-07-18", 30), ("2005-07-23", 16),
    ("2005-07-28", 6.3), ("2005-08-01", 4.1), ("2005-08-04", 2.1), ("2005-08-07", 0.18), ("2005-08-09", 0.8),
    ("2005-08-11", 2), ("2005-08-13", 4.6), ("2005-08-17", 8.2), ("2005-08-21", 4.6), ("2005-08-24", 8),
    ("2005-08-28", 6.3), ("2005-09-02", 20), ("2005-09-06", 16), ("2005-09-09", 33), ("2005-09-13", 24),
    ("2005-09-17", 20), ("2005-09-22", 19), ("2005-09-27", 60), ("2005-09-30", 52),
    ("2005-10-03", 22), ("2005-10-07", 15), ("2005-10-12", 16), ("2005-10-17", 20), ("2005-10-22", 30),
    ("2005-10-27", 60), ("2005-10-31", 155), ("2005-11-03", 100), ("2005-11-09", 120), ("2005-11-15", 130),
    ("2005-11-21", 100), ("2005-11-27", 125), ("2005-12-03", 130), ("2005-12-10", 120), ("2005-12-16", 110),
    ("2005-12-19", 130), ("2005-12-22", 150), ("2005-12-25", 580), ("2005-12-27", 1000), ("2005-12-30", 3000),
    ("2006-01-02", 900), ("2006-01-05", 1000), ("2006-01-08", 2600), ("2006-01-11", 2100), ("2006-01-14", 1900),
    ("2006-01-17", 3700), ("2006-01-21", 1400), ("2006-01-25", 850), ("2006-01-31", 1050), ("2006-02-05", 1800),
    ("2006-02-09", 1200), ("2006-02-14", 780), ("2006-02-18", 580), ("2006-02-23", 500), ("2006-03-01", 2200),
    ("2006-03-05", 1200), ("2006-03-09", 1300), ("2006-03-13", 670), ("2006-03-19", 500), ("2006-03-25", 430),
    ("2006-03-28", 1500), ("2006-03-31", 1300), ("2006-04-02", 1900), ("2006-04-05", 4300), ("2006-04-09", 3200),
    ("2006-04-14", 2500), ("2006-04-20", 1650), ("2006-04-26", 1200), ("2006-05-01", 900), ("2006-05-05", 1100),
    ("2006-05-10", 780), ("2006-05-15", 1200), ("2006-05-19", 900), ("2006-05-24", 500), ("2006-05-30", 500),
    ("2006-06-02", 900), ("2006-06-07", 700), ("2006-06-11", 400), ("2006-06-14", 460), ("2006-06-20", 130),
    ("2006-06-26", 63), ("2006-07-03", 20), ("2006-07-06", 16), ("2006-07-12", 12), ("2006-07-18", 17),
    ("2006-07-24", 9.5), ("2006-07-30", 16), ("2006-08-06", 7), ("2006-08-10", 2.1), ("2006-08-15", 9),
    ("2006-08-21", 6.3), ("2006-08-26", 5), ("2006-09-01", 9), ("2006-09-05", 14), ("2006-09-09", 5.3),
    ("2006-09-14", 14), ("2006-09-20", 65), ("2006-09-25", 30), ("2006-09-30", 16),
    ("2006-10-01", 25), ("2006-10-04", 14), ("2006-10-08", 16), ("2006-10-12", 12), ("2006-10-16", 22),
    ("2006-10-21", 40), ("2006-10-26", 52), ("2006-10-30", 45), ("2006-11-03", 60), ("2006-11-07", 1800),
    ("2006-11-09", 460), ("2006-11-12", 150), ("2006-11-17", 170), ("2006-11-22", 130), ("2006-11-25", 720),
    ("2006-11-30", 500), ("2006-12-04", 190), ("2006-12-08", 270), ("2006-12-11", 230), ("2006-12-14", 2400),
    ("2006-12-17", 900), ("2006-12-21", 270), ("2006-12-24", 500), ("2006-12-27", 1650), ("2006-12-30", 500),
    ("2007-01-01", 4000), ("2007-01-04", 580), ("2007-01-08", 500), ("2007-01-14", 370), ("2007-01-20", 340),
    ("2007-01-26", 370), ("2007-02-01", 460), ("2007-02-07", 670), ("2007-02-12", 1200), ("2007-02-16", 1900),
    ("2007-02-20", 1400), ("2007-02-25", 1200), ("2007-03-02", 1500), ("2007-03-06", 2000), ("2007-03-09", 1650),
    ("2007-03-14", 1900), ("2007-03-18", 1300), ("2007-03-21", 1400), ("2007-03-25", 1750), ("2007-03-28", 1400),
    ("2007-04-02", 1000), ("2007-04-07", 900), ("2007-04-11", 670), ("2007-04-17", 580), ("2007-04-22", 620),
    ("2007-04-26", 520), ("2007-05-01", 580), ("2007-05-05", 430), ("2007-05-11", 320), ("2007-05-17", 215),
    ("2007-05-23", 175), ("2007-05-28", 110), ("2007-05-31", 130), ("2007-06-02", 90), ("2007-06-07", 72),
    ("2007-06-12", 66), ("2007-06-16", 63), ("2007-06-22", 40), ("2007-06-26", 30), ("2007-06-30", 15),
    ("2007-07-04", 20), ("2007-07-07", 14), ("2007-07-12", 40), ("2007-07-16", 16), ("2007-07-22", 25),
    ("2007-07-28", 14), ("2007-08-02", 30), ("2007-08-07", 14), ("2007-08-11", 6.4), ("2007-08-16", 65),
    ("2007-08-19", 20), ("2007-08-22", 14), ("2007-08-27", 30), ("2007-08-31", 16), ("2007-09-05", 40),
    ("2007-09-09", 16), ("2007-09-13", 12), ("2007-09-19", 20), ("2007-09-25", 63), ("2007-09-29", 50),
    ("2007-10-01", 9), ("2007-10-05", 6), ("2007-10-08", 5.6), ("2007-10-10", 14), ("2007-10-14", 40),
    ("2007-10-18", 52), ("2007-10-24", 48), ("2007-10-31", 52), ("2007-11-05", 56), ("2007-11-10", 72),
    ("2007-11-13", 96), ("2007-11-18", 275), ("2007-11-21", 130), ("2007-11-24", 72), ("2007-11-27", 110),
    ("2007-12-01", 175), ("2007-12-04", 1200), ("2007-12-07", 580), ("2007-12-10", 430), ("2007-12-15", 500),
    ("2007-12-19", 400), ("2007-12-24", 1600), ("2007-12-27", 320), ("2007-12-31", 180), ("2008-01-04", 270),
    ("2008-01-09", 500), ("2008-01-14", 670), ("2008-01-19", 580), ("2008-01-24", 500), ("2008-01-28", 580),
    ("2008-02-03", 670), ("2008-02-08", 1050), ("2008-02-12", 1200), ("2008-02-16", 500), ("2008-02-21", 830),
    ("2008-02-26", 1500), ("2008-02-28", 1900), ("2008-03-03", 1000), ("2008-03-06", 1400), ("2008-03-09", 1750),
    ("2008-03-12", 830), ("2008-03-16", 1200), ("2008-03-21", 670), ("2008-03-25", 500), ("2008-03-28", 430),
    ("2008-03-31", 670), ("2008-04-04", 1000), ("2008-04-08", 1900), ("2008-04-11", 1200), ("2008-04-14", 2200),
    ("2008-04-17", 1200), ("2008-04-21", 1300), ("2008-04-26", 1000), ("2008-05-01", 2000), ("2008-05-04", 1650),
    ("2008-05-07", 1300), ("2008-05-11", 1500), ("2008-05-14", 2800), ("2008-05-17", 2000), ("2008-05-21", 1750),
    ("2008-05-26", 1650), ("2008-05-30", 1650), ("2008-06-03", 1400), ("2008-06-06", 1650), ("2008-06-08", 2000),
    ("2008-06-12", 1200), ("2008-06-16", 500), ("2008-06-19", 185), ("2008-06-24", 110), ("2008-06-28", 83),
    ("2008-07-03", 62), ("2008-07-08", 56), ("2008-07-13", 50), ("2008-07-17", 62), ("2008-07-20", 46),
    ("2008-07-23", 40), ("2008-07-26", 30), ("2008-07-31", 22), ("2008-08-04", 16), ("2008-08-07", 11),
    ("2008-08-10", 7), ("2008-08-13", 5.2), ("2008-08-16", 15), ("2008-08-19", 25), ("2008-08-22", 42),
    ("2008-08-26", 35), ("2008-08-31", 40), ("2008-09-04", 28), ("2008-09-08", 35), ("2008-09-13", 30),
    ("2008-09-18", 52), ("2008-09-22", 60), ("2008-09-25", 50), ("2008-09-30", 46),
    ("2008-10-02", 30), ("2008-10-05", 40), ("2008-10-09", 52), ("2008-10-13", 60), ("2008-10-18", 70),
    ("2008-10-24", 60), ("2008-10-30", 72), ("2008-11-04", 155), ("2008-11-07", 165), ("2008-11-10", 130),
    ("2008-11-13", 1000), ("2008-11-15", 215), ("2008-11-19", 175), ("2008-11-24", 175), ("2008-11-29", 200),
    ("2008-12-03", 320), ("2008-12-08", 400), ("2008-12-11", 500), ("2008-12-15", 430), ("2008-12-20", 370),
    ("2008-12-24", 460), ("2008-12-27", 400), ("2008-12-29", 2600), ("2008-12-31", 6300), ("2009-01-03", 3700),
    ("2009-01-05", 1650), ("2009-01-08", 8500), ("2009-01-11", 1750), ("2009-01-14", 1200), ("2009-01-18", 1000),
    ("2009-01-23", 780), ("2009-01-29", 670), ("2009-02-04", 580), ("2009-02-10", 500), ("2009-02-16", 430),
    ("2009-02-21", 370), ("2009-02-25", 500), ("2009-02-28", 1900), ("2009-03-03", 1200), ("2009-03-07", 2200),
    ("2009-03-11", 1500), ("2009-03-15", 2600), ("2009-03-19", 1650), ("2009-03-25", 3200), ("2009-03-28", 4300),
    ("2009-03-31", 5000), ("2009-04-03", 3700), ("2009-04-06", 4300), ("2009-04-09", 3200), ("2009-04-12", 2600),
    ("2009-04-15", 3700), ("2009-04-18", 2800), ("2009-04-21", 1750), ("2009-04-25", 2000), ("2009-04-30", 2800),
    ("2009-05-02", 1900), ("2009-05-05", 2000), ("2009-05-08", 2600), ("2009-05-13", 2600), ("2009-05-16", 1500),
    ("2009-05-21", 1000), ("2009-05-25", 670), ("2009-06-01", 500), ("2009-06-05", 370), ("2009-06-10", 255),
    ("2009-06-14", 160), ("2009-06-19", 130), ("2009-06-23", 100), ("2009-06-28", 83), ("2009-07-03", 62),
    ("2009-07-07", 47), ("2009-07-13", 35), ("2009-07-19", 30), ("2009-07-23", 25), ("2009-07-27", 16),
    ("2009-07-30", 9), ("2009-08-02", 5.6), ("2009-08-04", 130), ("2009-08-07", 62), ("2009-08-09", 40),
    ("2009-08-12", 25), ("2009-08-15", 22), ("2009-08-18", 30), ("2009-08-21", 40), ("2009-08-24", 24),
    ("2009-08-28", 30), ("2009-09-01", 40), ("2009-09-05", 25), ("2009-09-09", 40), ("2009-09-13", 22),
    ("2009-09-17", 30), ("2009-09-22", 47), ("2009-09-25", 62), ("2009-09-28", 155),
    ("2009-10-01", 110), ("2009-10-03", 30), ("2009-10-06", 52), ("2009-10-09", 120), ("2009-10-12", 80),
    ("2009-10-15", 66), ("2009-10-20", 96), ("2009-10-24", 130), ("2009-10-27", 235), ("2009-10-30", 175),
    ("2009-11-04", 175), ("2009-11-08", 160), ("2009-11-12", 190), ("2009-11-17", 200), ("2009-11-22", 235),
    ("2009-11-26", 320), ("2009-11-29", 460), ("2009-12-02", 340), ("2009-12-08", None), ("2009-12-17", 670),
    ("2009-12-20", 900), ("2009-12-23", 780), ("2009-12-26", 500), ("2009-12-29", 430), ("2010-01-01", 580),
    ("2010-01-02", 2600), ("2010-01-05", 1200), ("2010-01-08", 670), ("2010-01-11", 830), ("2010-01-16", 780),
    ("2010-01-20", 900), ("2010-01-25", 830), ("2010-01-29", 900), ("2010-02-03", 720), ("2010-02-07", 830),
    ("2010-02-12", 780), ("2010-02-16", 830), ("2010-02-20", 670), ("2010-02-25", 500), ("2010-03-03", 430),
    ("2010-03-09", 370), ("2010-03-15", 300), ("2010-03-20", 255), ("2010-03-24", 235), ("2010-03-27", 275),
    ("2010-03-30", 1200), ("2010-03-31", 900), ("2010-04-03", 620), ("2010-04-06", 780), ("2010-04-09", 580),
    ("2010-04-12", 780), ("2010-04-16", 500), ("2010-04-20", 580), ("2010-04-24", 670), ("2010-04-27", 1200),
    ("2010-04-30", 1300), ("2010-05-03", 780), ("2010-05-06", 1000), ("2010-05-09", 670), ("2010-05-13", 500),
    ("2010-05-17", 670), ("2010-05-21", 500), ("2010-05-25", 670), ("2010-05-31", 1000), ("2010-06-04", 3700),
    ("2010-06-07", 1750), ("2010-06-10", 830), ("2010-06-13", 500), ("2010-06-18", 275), ("2010-06-22", 175),
    ("2010-06-26", 130), ("2010-07-01", 96), ("2010-07-06", 72), ("2010-07-10", 46), ("2010-07-13", 35),
    ("2010-07-18", 25), ("2010-07-22", 24), ("2010-07-25", 19), ("2010-07-28", 24), ("2010-07-31", 16),
    ("2010-08-03", 22), ("2010-08-06", 19), ("2010-08-11", 16), ("2010-08-14", 11), ("2010-08-17", 16),
    ("2010-08-20", 11), ("2010-08-23", 25), ("2010-08-26", 40), ("2010-08-29", 100), ("2010-08-31", 52),
    ("2010-09-03", 40), ("2010-09-07", 66), ("2010-09-10", 96), ("2010-09-13", 130), ("2010-09-16", 110),
    ("2010-09-19", 96), ("2010-09-22", 80), ("2010-09-25", 66), ("2010-09-28", 52), ("2010-09-30", 46),
]

tou_bol = [
    ("2002-10-01", 50), ("2002-10-06", 46), ("2002-10-13", 46), ("2002-10-22", 52), ("2002-10-31", 60),
    ("2002-11-10", 65), ("2002-11-19", 60), ("2002-11-22", None),
    ("2007-01-12", 420), ("2007-01-14", 400), ("2007-01-18", 320), ("2007-01-23", 275), ("2007-01-29", 235),
    ("2007-02-01", 300), ("2007-02-07", 430), ("2007-02-13", 580), ("2007-02-19", 620), ("2007-02-25", 670),
    ("2007-03-02", 720), ("2007-03-06", 1000), ("2007-03-09", 830), ("2007-03-12", 1200), ("2007-03-16", 780),
    ("2007-03-21", 700), ("2007-03-25", 830), ("2007-03-30", 500), ("2007-04-03", 370), ("2007-04-08", 300),
    ("2007-04-14", 235), ("2007-04-20", 215), ("2007-04-26", 200), ("2007-05-01", 190), ("2007-05-07", 150),
    ("2007-05-13", 130), ("2007-05-19", 100), ("2007-05-25", 83), ("2007-05-31", 72), ("2007-06-07", 62),
    ("2007-06-13", 55), ("2007-06-20", 40), ("2007-06-26", 35), ("2007-07-02", 32), ("2007-07-08", 30),
    ("2007-07-14", 32), ("2007-07-21", 27), ("2007-07-27", 30), ("2007-08-02", 32), ("2007-08-08", 30),
    ("2007-08-14", 37), ("2007-08-17", 63), ("2007-08-20", 40), ("2007-08-26", 35), ("2007-09-01", 38),
    ("2007-09-10", 40), ("2007-09-19", 43), ("2007-09-25", 46), ("2007-10-01", 52),
    ("2007-10-08", 52), ("2007-10-15", 60), ("2007-10-24", 60), ("2007-11-03", 60), ("2007-11-12", 77),
    ("2007-11-15", 96), ("2007-11-18", 200), ("2007-11-21", 130), ("2007-11-24", 83), ("2007-12-01", 130),
    ("2007-12-04", 320), ("2007-12-09", 200), ("2007-12-15", 235), ("2007-12-21", 190), ("2007-12-24", 670),
    ("2007-12-28", 275), ("2008-01-02", 200), ("2008-01-08", 275), ("2008-01-14", 430), ("2008-01-20", 320),
    ("2008-01-26", 200), ("2008-01-31", 275), ("2008-02-04", 500), ("2008-02-09", 670), ("2008-02-13", 430),
    ("2008-02-18", 340), ("2008-02-24", 580), ("2008-02-28", 830), ("2008-03-03", 520), ("2008-03-08", 670),
    ("2008-03-13", 460), ("2008-03-18", 370), ("2008-03-23", 320), ("2008-03-28", 275), ("2008-04-02", 370),
    ("2008-04-06", 670), ("2008-04-09", 900), ("2008-04-13", 520), ("2008-04-16", 830), ("2008-04-21", 580),
    ("2008-04-26", 500), ("2008-05-01", 780), ("2008-05-05", 500), ("2008-05-10", 430), ("2008-05-14", 580),
    ("2008-05-20", 500), ("2008-05-25", 580), ("2008-05-30", 540), ("2008-06-05", 620), ("2008-06-09", 500),
    ("2008-06-14", 340), ("2008-06-19", 175), ("2008-06-25", 100), ("2008-07-01", 77), ("2008-07-07", 66),
    ("2008-07-13", 56), ("2008-07-20", 50), ("2008-07-29", 46), ("2008-08-08", 44), ("2008-08-16", 46),
    ("2008-08-26", 44), ("2008-09-10", 43), ("2008-09-19", 46), ("2008-09-25", 52), ("2008-09-30", 50),
    ("2008-10-05", 50), ("2008-10-14", 52), ("2008-10-23", 60), ("2008-11-02", 65), ("2008-11-08", 77),
    ("2008-11-13", 110), ("2008-11-16", 80), ("2008-11-23", 90), ("2008-11-29", 96), ("2008-12-06", 100),
    ("2008-12-12", 110), ("2008-12-18", 100), ("2008-12-24", 130), ("2008-12-29", 200), ("2008-12-31", 500),
    ("2009-01-03", 1000), ("2009-01-06", 700), ("2009-01-09", 830), ("2009-01-12", 430), ("2009-01-17", 370),
    ("2009-01-23", 320), ("2009-01-29", 275), ("2009-02-06", 255), ("2009-02-12", 215), ("2009-02-18", 200),
    ("2009-02-22", 235), ("2009-02-27", 340), ("2009-03-03", 580), ("2009-03-07", 670), ("2009-03-12", 900),
    ("2009-03-17", 670), ("2009-03-21", 1130), ("2009-03-25", 1500), ("2009-03-28", 1900), ("2009-03-31", 1650),
    ("2009-04-03", 1750), ("2009-04-06", 1300), ("2009-04-09", 1750), ("2009-04-13", 1200), ("2009-04-17", 1300),
    ("2009-04-21", 1000), ("2009-04-25", 1200), ("2009-04-29", 900), ("2009-05-03", 780), ("2009-05-07", 900),
    ("2009-05-11", 800), ("2009-05-15", 830), ("2009-05-19", 580), ("2009-05-23", 430), ("2009-05-29", 320),
    ("2009-06-04", 235), ("2009-06-10", 175), ("2009-06-16", 130), ("2009-06-22", 96), ("2009-06-28", 72),
    ("2009-07-04", 52), ("2009-07-10", 45), ("2009-07-16", 40), ("2009-07-22", 38), ("2009-07-28", 40),
    ("2009-08-03", 40), ("2009-08-09", 38), ("2009-08-15", 40), ("2009-08-21", 39), ("2009-08-27", 40),
    ("2009-09-02", 41), ("2009-09-08", 40), ("2009-09-14", 43), ("2009-09-20", 46), ("2009-09-26", 52),
    ("2009-09-30", 46), ("2009-10-06", 52), ("2009-10-12", 60), ("2009-10-18", 66), ("2009-10-24", 72),
    ("2009-10-30", 83), ("2009-11-06", 90), ("2009-11-12", 96), ("2009-11-17", 110), ("2009-11-22", 130),
    ("2009-11-26", 175), ("2009-11-29", 200), ("2009-12-03", 130), ("2009-12-06", 72), ("2009-12-10", 130),
    ("2009-12-12", 235), ("2009-12-16", 300), ("2009-12-20", 235), ("2009-12-24", 200), ("2009-12-29", 175),
    ("2010-01-01", 600), ("2010-01-05", 320), ("2010-01-10", 300), ("2010-01-16", 275), ("2010-01-22", 255),
    ("2010-01-28", 275), ("2010-02-03", 235), ("2010-02-09", 255), ("2010-02-15", 235), ("2010-02-21", 200),
    ("2010-02-27", 175), ("2010-03-05", 160), ("2010-03-11", 145), ("2010-03-18", 140), ("2010-03-24", 140),
    ("2010-03-28", 150), ("2010-03-30", 1000), ("2010-04-01", 580), ("2010-04-05", 500), ("2010-04-09", 580),
    ("2010-04-12", 500), ("2010-04-16", 370), ("2010-04-19", 460), ("2010-04-24", 370), ("2010-04-29", 500),
    ("2010-05-03", 340), ("2010-05-07", 430), ("2010-05-12", 340), ("2010-05-17", 320), ("2010-05-21", 370),
    ("2010-05-25", 275), ("2010-05-29", 235), ("2010-06-01", 580), ("2010-06-03", 1050), ("2010-06-06", 580),
    ("2010-06-09", 340), ("2010-06-13", 235), ("2010-06-18", 160), ("2010-06-24", 110), ("2010-06-30", 83),
    ("2010-07-06", 62), ("2010-07-12", 55), ("2010-07-18", 46), ("2010-07-24", 45), ("2010-07-30", 43),
    ("2010-08-05", 45), ("2010-08-11", 43), ("2010-08-17", 40), ("2010-08-23", 43), ("2010-08-30", 46),
    ("2010-09-05", 49), ("2010-09-11", 46), ("2010-09-17", 52), ("2010-09-23", 50), ("2010-09-30", 51),
]

rob_fk_tou = [
    ("2003-02-11", 13.8), ("2003-02-26", 27), ("2003-02-27", 22), ("2003-04-10", 38), ("2003-04-21", 20),
    ("2003-05-07", 20), ("2003-05-12", 15.5), ("2003-05-13", 16.5), ("2003-05-18", 11), ("2003-05-27", 11),
    ("2003-06-02", 6), ("2003-06-09", 5), ("2003-06-15", 3.3), ("2003-06-23", 2.6), ("2003-08-14", 1.2),
    ("2003-11-02", 1.2), ("2003-11-08", 1.7), ("2003-11-16", 2.2), ("2003-11-22", 2.2), ("2004-01-11", 6.7),
    ("2004-01-19", 6.7), ("2004-01-25", 15.5), ("2004-02-16", 64), ("2004-03-26", 14.6), ("2004-04-01", 10),
    ("2004-04-10", 8), ("2004-04-19", 7), ("2004-04-25", 7.2), ("2004-05-02", 8.8), ("2004-05-09", 7),
    ("2004-05-15", 5.7), ("2004-05-21", 19.5), ("2004-05-29", 43), ("2004-06-06", 7), ("2004-06-13", 8),
    ("2004-06-19", 4.3), ("2004-06-25", 3.2), ("2004-07-02", 2.8), ("2004-07-11", 1.9), ("2004-07-12", 2.3),
    ("2004-07-17", 1.5), ("2004-07-21", 0.9), ("2004-07-29", 0.9), ("2004-08-04", 0.5), ("2004-08-13", 0.5),
    ("2004-08-16", 0.8), ("2004-08-21", 1.0), ("2004-08-28", 0.6), ("2004-09-03", 0.6), ("2004-09-10", 0.6),
    ("2004-09-19", 0.7), ("2004-09-25", 0.5),
    ("2004-10-05", 0.62), ("2004-10-12", 1.0), ("2004-10-17", 2.6), ("2004-10-22", 1.25), ("2004-10-29", 1.3),
    ("2004-11-03", 1.25), ("2004-11-09", 1.3), ("2004-11-16", 1.3), ("2004-11-22", 1.3), ("2004-11-27", 1.5),
    ("2004-12-05", 1.7), ("2004-12-13", 13), ("2004-12-20", 5.4), ("2004-12-26", 3.7), ("2005-01-01", 1.9),
    ("2005-01-09", 2.1), ("2005-01-18", 16.8), ("2005-01-23", 8), ("2005-01-29", 4.3), ("2005-02-07", 2.8),
    ("2005-02-15", 1.0), ("2005-02-21", 2.1), ("2005-02-27", 2.6), ("2005-03-08", 2.4), ("2005-03-14", 2.1),
    ("2005-03-21", 2.6), ("2005-03-28", 46), ("2005-04-05", 30), ("2005-04-11", 13), ("2005-04-16", 15),
    ("2005-04-24", 10.7), ("2005-04-28", 5.5), ("2005-05-07", 5.5), ("2005-05-15", 13.7), ("2005-05-22", 10.3),
    ("2005-05-30", 4.6), ("2005-06-07", 3.8), ("2005-06-13", 2.6), ("2005-06-21", 1.9), ("2005-06-27", 1.7),
    ("2005-07-05", 1.1), ("2005-07-12", 1.0), ("2005-07-18", 0.9), ("2005-07-26", 0.4), ("2005-08-01", 0.2),
    ("2005-08-31", 0.3), ("2005-09-09", 0.3), ("2005-09-16", 0.3), ("2005-09-21", 0.4),
    ("2005-09-30", 1.2), ("2005-10-06", 0.8), ("2005-10-18", 0.7), ("2005-10-27", 0.9), ("2005-11-02", 3.4),
    ("2005-11-08", 2.4), ("2005-11-14", 3.0), ("2005-11-16", 2.6), ("2005-11-22", 2.1), ("2005-12-07", 1.9),
    ("2005-12-14", 1.5), ("2005-12-22", 10.3), ("2005-12-28", 36), ("2006-01-04", 17.5), ("2006-01-18", 50),
    ("2006-01-25", 21), ("2006-02-01", 35), ("2006-02-08", 21), ("2006-02-16", 6.6), ("2006-02-24", 4.5),
    ("2006-03-01", 32), ("2006-03-08", 32), ("2006-03-15", 14), ("2006-03-23", 15), ("2006-03-26", 43),
    ("2006-04-06", 55), ("2006-04-12", 43), ("2006-04-19", 32), ("2006-04-25", 21), ("2006-05-03", 13),
    ("2006-05-11", 11), ("2006-05-20", 14.5), ("2006-05-25", 8.7), ("2006-06-01", 6.8), ("2006-06-07", 6.7),
    ("2006-06-14", 6.0), ("2006-06-21", 5.6), ("2006-06-28", 5.1), ("2006-07-05", 4.9), ("2006-09-20", 1.4),
    ("2006-10-01", 0.9), ("2006-10-10", 0.9), ("2006-10-14", 1.1), ("2006-10-20", 1.0), ("2006-11-08", 9.8),
    ("2006-11-17", 9.2), ("2006-11-23", 29), ("2006-11-26", 9.5), ("2006-12-07", 9.5), ("2006-12-15", 46),
    ("2006-12-21", 11), ("2006-12-27", 29), ("2007-01-04", 66), ("2007-01-11", 32), ("2007-01-17", 16),
    ("2007-01-25", 12), ("2007-01-31", 9.5), ("2007-02-08", 40), ("2007-02-16", 46), ("2007-02-22", 40),
    ("2007-03-01", 24), ("2007-03-09", 58), ("2007-03-15", 36), ("2007-03-22", 22), ("2007-03-31", 34),
    ("2007-04-08", 21), ("2007-04-28", 21), ("2007-05-07", 15), ("2007-05-15", 11), ("2007-05-22", 8.3),
    ("2007-05-30", 7.2), ("2007-06-04", 7.3), ("2007-06-12", 5.6), ("2007-06-17", 5.2), ("2007-06-21", 4.4),
    ("2007-07-04", 3.2), ("2007-07-10", 2.9), ("2007-07-19", 3.4), ("2007-07-23", 2.2), ("2007-07-31", 1.6),
    ("2007-08-04", 1.6), ("2007-08-09", 1.5), ("2007-08-18", 2.9), ("2007-08-29", 1.9), ("2007-09-06", 1.6),
    ("2007-09-15", 1.6),
    ("2007-10-03", 0.8), ("2007-10-09", 0.62), ("2007-10-17", 1.75), ("2007-10-18", 0.62), ("2007-10-26", 0.62),
    ("2007-11-03", 0.62), ("2007-11-09", 0.62), ("2007-11-14", 1.5), ("2007-11-21", 3.1), ("2007-11-27", 1.3),
    ("2007-12-06", 20), ("2007-12-12", 5.5), ("2007-12-14", 6.3), ("2007-12-28", 20.6), ("2007-12-31", 12),
    ("2008-01-10", 30), ("2008-01-17", 15), ("2008-01-21", 10), ("2008-02-03", 7.8), ("2008-02-13", 35),
    ("2008-02-19", 25), ("2008-02-25", 43), ("2008-03-07", 25.6), ("2008-03-11", 52), ("2008-03-16", 37),
    ("2008-03-27", 28), ("2008-03-30", 34), ("2008-04-03", 23.5), ("2008-04-11", 32), ("2008-04-17", 49),
    ("2008-04-25", 32), ("2008-04-26", 85), ("2008-05-03", 58), ("2008-05-08", 51), ("2008-05-14", 80),
    ("2008-05-20", 36), ("2008-05-28", 35), ("2008-06-03", 34), ("2008-06-08", 32), ("2008-06-14", 31),
    ("2008-06-16", 20), ("2008-06-24", 9.5), ("2008-06-30", 5.7), ("2008-07-06", 3.7), ("2008-07-14", 3.7),
    ("2008-07-19", 2.8), ("2008-07-28", 2.4), ("2008-08-04", 2.1), ("2008-08-09", 1.7), ("2008-08-19", 3.7),
    ("2008-08-24", 2.1), ("2008-08-30", 1.0), ("2008-09-06", 1.0), ("2008-09-07", 1.2), ("2008-09-13", 1.0),
    ("2008-09-20", 1.0), ("2008-09-27", 1.0), ("2008-10-04", 1.0), ("2008-10-11", 1.0), ("2008-10-18", 1.0),
    ("2008-10-25", 1.0), ("2008-11-01", 1.0),
    ("2008-11-04", 2.2), ("2008-11-13", 4.8), ("2008-11-19", 3.7), ("2008-11-27", 2.9), ("2008-12-06", 3.8),
    ("2008-12-09", 5.2), ("2009-01-09", 123), ("2009-01-16", 64), ("2009-01-22", 5.3), ("2009-02-05", 3.3),
    ("2009-02-12", 1.4), ("2009-02-27", 16.5), ("2009-03-11", 13.5), ("2009-03-18", 103), ("2009-03-26", 92),
    ("2009-04-08", 106), ("2009-04-16", 64), ("2009-04-19", 106), ("2009-04-30", 10), ("2009-05-04", 88),
    ("2009-05-13", 95), ("2009-05-21", 14.5), ("2009-05-28", 8), ("2009-07-13", 3.2),
]

# ---------------- build figure ----------------
def unzip(pairs):
    return [p[0] for p in pairs], [p[1] for p in pairs]

axis_start = pd.Timestamp("2002-10-01")
axis_end = pd.Timestamp("2010-09-30")
span_days = (axis_end - axis_start).days
tick_positions = [(axis_start + pd.Timedelta(days=k * span_days / (len(tick_labels) - 1))).strftime("%Y-%m-%d %H:%M")
                  for k in range(len(tick_labels))]
minor_y = [m * 10.0 ** e for e in range(-1, 4) for m in range(2, 10)]

GRID = "#5f82b3"
AXIS = "#8c8c8c"
TXT = "#262626"

fig = go.Figure()
series = [
    ("NFT_Day", nft_day, "#2f9a3a", "legend"),
    ("Tou_Cum", tou_cum, "#e8362e", "legend"),
    ("WW_nrT", ww_nrt, "#2f86c8", "legend"),
    ("Tou_Bol", tou_bol, "#7b3a9c", "legend2"),
]
for name, pairs, color, lg in series:
    xs, ys = unzip(pairs)
    fig.add_trace(go.Scatter(x=xs, y=ys, name=name, mode="lines",
                             line=dict(color=color, width=1.3), legend=lg, connectgaps=False))

rx, ry = unzip(rob_fk_tou)
fig.add_trace(go.Scatter(x=rx, y=ry, name="RobFkTou", mode="markers", legend="legend2",
                         marker=dict(symbol="diamond", size=10, color="#d22ed2",
                                     line=dict(color="#6a1a6a", width=0.8))))

legend_common = dict(orientation="h", xanchor="left", yanchor="middle", bgcolor="rgba(0,0,0,0)",
                     borderwidth=0, entrywidth=168, entrywidthmode="pixels", itemwidth=40,
                     font=dict(family="Lato, Open Sans, sans-serif", size=21, color=TXT), tracegroupgap=0)

fig.update_layout(
    width=1721, height=1098, autosize=False,
    margin=dict(l=106, r=22, t=31, b=116, autoexpand=False),
    paper_bgcolor="white", plot_bgcolor="white",
    showlegend=True,
    legend=dict(x=0.5895, y=0.0789, **legend_common),
    legend2=dict(x=0.5895, y=0.0315, **legend_common),
    xaxis=dict(
        type="date", range=[axis_start.strftime("%Y-%m-%d"), axis_end.strftime("%Y-%m-%d")],
        tickmode="array", tickvals=tick_positions, ticktext=tick_labels, tickangle=-90,
        tickfont=dict(family="DejaVu Sans", size=20, color=TXT),
        showgrid=True, gridcolor=GRID, griddash="3px,2px", gridwidth=1,
        showline=True, linecolor=AXIS, linewidth=1.5,
        ticks="outside", ticklen=8, tickcolor=AXIS, zeroline=False, automargin=False,
    ),
    yaxis=dict(
        type="log", range=[-1, 4],
        tickmode="array", tickvals=y_tick_vals, ticktext=y_tick_text,
        tickfont=dict(family="DejaVu Sans", size=19, color=TXT),
        showgrid=True, gridcolor=GRID, griddash="6px,3px", gridwidth=1,
        showline=True, linecolor=AXIS, linewidth=1.5,
        ticks="outside", ticklen=8, tickcolor=AXIS, ticklabelstandoff=10,
        minor=dict(tickmode="array", tickvals=minor_y, ticks="inside", ticklen=6,
                   tickcolor=AXIS, showgrid=False),
        zeroline=False, automargin=False,
    ),
    annotations=[dict(text="<b>Flow (cfs)</b>", xref="paper", yref="paper", x=-0.0502, y=0.5,
                      textangle=-90, showarrow=False, xanchor="center", yanchor="middle",
                      font=dict(family="Lato, Open Sans, sans-serif", size=26, color=TXT))],
    shapes=[
        dict(type="rect", xref="paper", yref="paper", x0=0.5675, x1=0.9818, y0=0.0074, y1=0.103,
             line=dict(color="#5b7fa8", width=1), fillcolor="white", layer="between"),
        dict(type="rect", xref="paper", yref="paper", x0=-0.0653, x1=1.0126, y0=-0.1199, y1=1.0305,
             line=dict(color="#c4c4c4", width=1.5), fillcolor="rgba(0,0,0,0)", layer="above"),
    ],
)

fig.write_html("out.html")
